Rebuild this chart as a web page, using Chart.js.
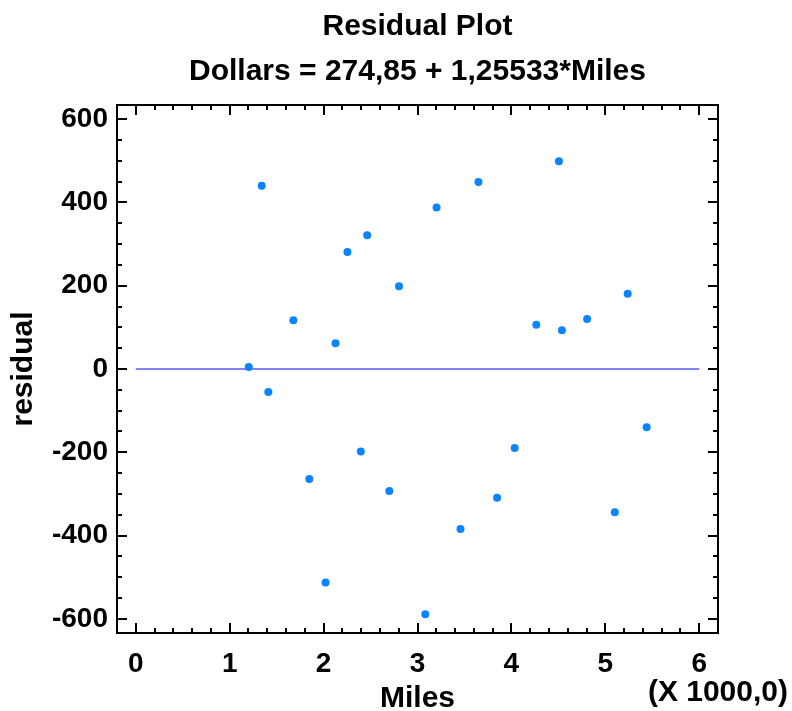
<!DOCTYPE html>
<html>
<head>
<meta charset="utf-8">
<title>Residual Plot</title>
<script src="https://cdn.jsdelivr.net/npm/chart.js@4/dist/chart.umd.min.js"></script>
<style>
  html, body { margin: 0; padding: 0; background: #fff; }
  canvas { display: block; }
</style>
</head>
<body>
<canvas id="residChart" width="792" height="711"></canvas>
<script>
// values
const milesX = [1203, 1341, 1412, 1678, 1848, 2021, 2127, 2254, 2396, 2464, 2700, 2803, 3083,
                3203, 3458, 3649, 3847, 4035, 4265, 4506, 4538, 4806, 5101, 5238, 5440];
const residY = [5, 440, -55, 117, -264, -513, 62, 281, -198, 321, -293, 199, -589,
                388, -384, 449, -309, -190, 106, 499, 93, 120, -344, 181, -140];
const zeroLineX = [0, 6000];
const xTickValues = [0, 1000, 2000, 3000, 4000, 5000, 6000];
const yTickValues = [-600, -400, -200, 0, 200, 400, 600];
const xMinorStep = 200;
const yMinorStep = 50;

const chartTitle = 'Residual Plot';
const chartSubtitle = 'Dollars = 274,85 + 1,25533*Miles';
const xScaleNote = '(X 1000,0)';

const FONT = '"Liberation Sans", Arial, Helvetica, sans-serif';

// frame, inward ticks on all 4 sides, titles
const framePlugin = {
  id: 'frame',
  afterDraw(chart) {
    const { ctx, chartArea: a, scales: { x, y } } = chart;
    ctx.save();
    ctx.strokeStyle = '#000';
    ctx.lineWidth = 2;
    ctx.strokeRect(a.left, a.top, a.right - a.left, a.bottom - a.top);

    const tick = (x1, y1, x2, y2) => { ctx.beginPath(); ctx.moveTo(x1, y1); ctx.lineTo(x2, y2); ctx.stroke(); };

    for (let v = x.min; v <= x.max + 1e-6; v += xMinorStep) {
      const px = Math.round(x.getPixelForValue(v));
      if (px <= a.left + 1 || px >= a.right - 1) continue;
      const len = xTickValues.includes(Math.round(v)) ? 10 : 5;
      tick(px, a.bottom, px, a.bottom - len);
      tick(px, a.top, px, a.top + len);
    }
    for (let v = Math.ceil(y.min / yMinorStep) * yMinorStep; v <= y.max; v += yMinorStep) {
      const py = Math.round(y.getPixelForValue(v));
      if (py <= a.top + 1 || py >= a.bottom - 1) continue;
      const len = yTickValues.includes(v) ? 10 : 5;
      tick(a.left, py, a.left + len, py);
      tick(a.right, py, a.right - len, py);
    }

    ctx.fillStyle = '#000';
    ctx.textAlign = 'center';
    ctx.textBaseline = 'alphabetic';
    const cx = (a.left + a.right) / 2;
    ctx.font = 'bold 30px ' + FONT;
    ctx.fillText(chartTitle, cx, 35);
    ctx.fillText(chartSubtitle, cx, 80);
    ctx.textAlign = 'right';
    ctx.fillText(xScaleNote, 788, 701);
    ctx.restore();
  }
};

const ctx = document.getElementById('residChart').getContext('2d');
const chart = new Chart(ctx, {
  type: 'scatter',
  data: {
    datasets: [
      {
        type: 'line',
        data: zeroLineX.map(v => ({ x: v, y: 0 })),
        borderColor: '#5a5aff',
        borderWidth: 1.5,
        pointRadius: 0,
        fill: false,
        order: 2
      },
      {
        data: milesX.map((v, i) => ({ x: v, y: residY[i] })),
        backgroundColor: '#0a84ff',
        borderWidth: 0,
        pointRadius: 4,
        order: 1
      }
    ]
  },
  options: {
    responsive: false,
    animation: false,
    layout: { padding: { top: 105, right: 74, left: 0, bottom: 0 } },
    plugins: {
      legend: { display: false },
      tooltip: { enabled: false }
    },
    scales: {
      x: {
        type: 'linear',
        min: -200,
        max: 6200,
        afterBuildTicks: s => { s.ticks = xTickValues.map(v => ({ value: v })); },
        afterFit: s => { s.height = 78; },
        grid: { display: false },
        border: { display: false },
        ticks: {
          color: '#000',
          padding: 6,
          maxRotation: 0,
          font: { family: FONT, size: 28, weight: 'bold' },
          callback: v => String(v / 1000)
        },
        title: {
          display: true,
          text: 'Miles',
          color: '#000',
          font: { family: FONT, size: 30, weight: 'bold', lineHeight: 1 },
          padding: { top: 0, bottom: -3 }
        }
      },
      y: {
        type: 'linear',
        min: -634,
        max: 634,
        afterBuildTicks: s => { s.ticks = yTickValues.map(v => ({ value: v })); },
        afterFit: s => { s.width = 117; },
        grid: { display: false },
        border: { display: false },
        ticks: {
          color: '#000',
          padding: 1,
          font: { family: FONT, size: 28, weight: 'bold' }
        },
        title: {
          display: true,
          text: 'residual',
          color: '#000',
          font: { family: FONT, size: 30, weight: 'bold', lineHeight: 1 },
          padding: { top: 9, bottom: 0 }
        }
      }
    }
  },
  plugins: [framePlugin]
});
</script>
</body>
</html>
